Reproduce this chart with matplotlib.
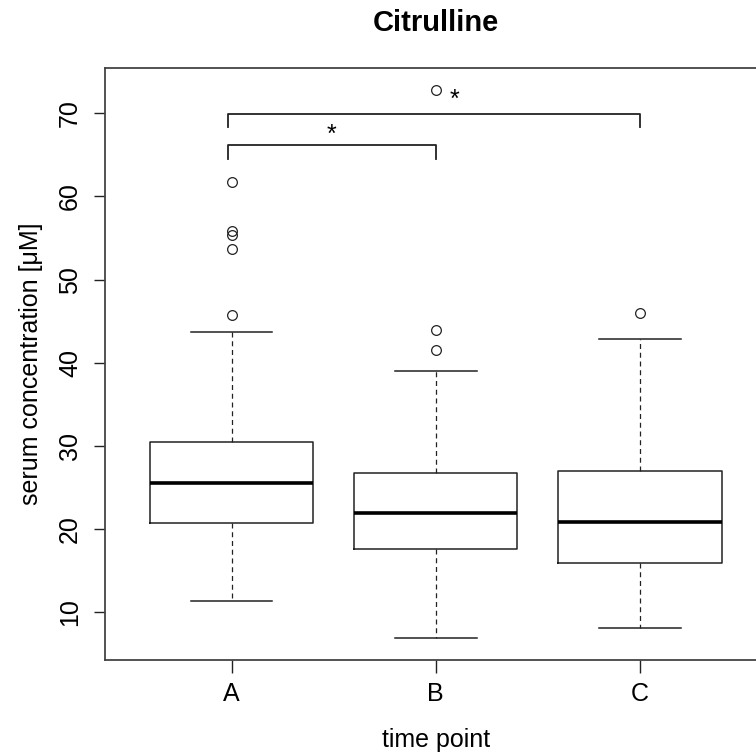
import matplotlib
matplotlib.use('Agg')
import matplotlib.pyplot as plt

# data
groups = ['A', 'B', 'C']
whis_lo = [11.3, 6.9, 8.1]
q1 = [20.7, 17.6, 15.9]
medians = [25.6, 21.9, 20.9]
q3 = [30.5, 26.8, 27.0]
whis_hi = [43.7, 39.0, 42.9]
outliers = [[45.7, 53.7, 55.4, 55.8, 61.7],
            [41.5, 43.9, 72.8],
            [46.0]]

# significance brackets: from group, to group, leg bottom, bar height
br_from = [1, 1]
br_to = [2, 3]
br_low = [64.5, 68.3]
br_high = [66.2, 69.9]
star_x = [1.49, 2.09]
star_y = [67.4, 71.6]

plt.rcParams['font.family'] = ['Liberation Sans', 'DejaVu Sans']

fig = plt.figure(figsize=(7.56, 7.55), dpi=100)
ax = fig.add_axes([0.1389, 0.1258, 0.875, 0.784])

stats = []
for i in range(len(groups)):
    stats.append(dict(whislo=whis_lo[i], q1=q1[i], med=medians[i], q3=q3[i],
                      whishi=whis_hi[i], fliers=outliers[i], label=groups[i]))

ax.bxp(stats, positions=[1, 2, 3], widths=0.8, capwidths=0.4,
       boxprops=dict(color='#222222', linewidth=1.1),
       medianprops=dict(color='black', linewidth=2.6, solid_capstyle='butt'),
       whiskerprops=dict(color='#222222', linewidth=0.9, linestyle=(0, (4, 3))),
       capprops=dict(color='#222222', linewidth=1.1),
       flierprops=dict(marker='o', markersize=7, markerfacecolor='none',
                       markeredgecolor='#222222', markeredgewidth=0.9))

# brackets
for a, b, lo, hi in zip(br_from, br_to, br_low, br_high):
    ax.plot([a - 0.02, a - 0.02, b, b], [lo, hi, hi, lo], color='#222222', lw=1.3)
for sx, sy in zip(star_x, star_y):
    ax.text(sx, sy, '*', ha='center', va='center', fontsize=18)

ax.set_xlim(0.38, 3.62)
ax.set_ylim(4.26, 75.44)
ax.set_yticks([10, 20, 30, 40, 50, 60, 70])
ax.set_xticks([1, 2, 3])
ax.set_xticklabels(groups)
ax.tick_params(axis='both', labelsize=18, color='#222222', width=1.0)
ax.tick_params(axis='x', length=9.5, pad=6.5)
ax.tick_params(axis='y', length=8, pad=8.5)
for lab in ax.get_yticklabels():
    lab.set_rotation(90)
    lab.set_va('center')
for s in ax.spines.values():
    s.set_color('#444444')
    s.set_linewidth(1.3)

ax.set_xlabel('time point', fontsize=18, labelpad=16)
ax.set_ylabel('serum concentration [μM]', fontsize=18, labelpad=11)
fig.text(0.576, 0.969, 'Citrulline', ha='center', va='center', fontsize=21, fontweight='bold')

plt.savefig('out.png', dpi=100)
